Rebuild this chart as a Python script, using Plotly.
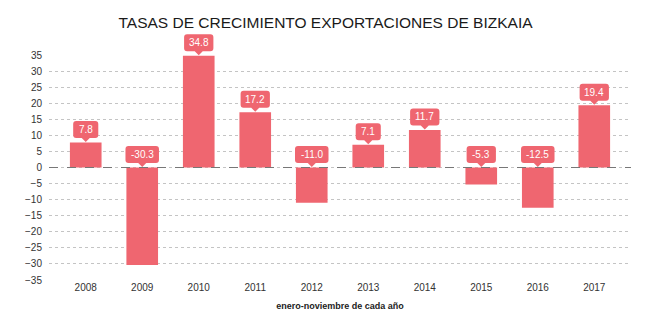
import plotly.graph_objects as go

years = ["2008", "2009", "2010", "2011", "2012", "2013", "2014", "2015", "2016", "2017"]
values = [7.8, -30.3, 34.8, 17.2, -11.0, 7.1, 11.7, -5.3, -12.5, 19.4]
y_ticks = list(range(-35, 40, 5))

BAR = "#EF6670"
FONT = "Liberation Sans, Arial, sans-serif"
Y_MIN, Y_MAX = -35, 35

fig = go.Figure()
fig.add_trace(go.Bar(x=list(range(len(years))), y=values, marker=dict(color=BAR, line=dict(width=0)),
                     width=0.56, hoverinfo="skip"))

shapes = []
annotations = []
for i, v in enumerate(values):
    label = f"{v:.1f}"
    anchor = max(v, 0)
    frac = (anchor - Y_MIN) / (Y_MAX - Y_MIN)
    w = 4.2 * len(label) + 12.5
    hw = w / 2
    b = 4.5   # box bottom above anchor
    h = 17
    r = 3
    t = b + h
    p = 4     # pointer half-width
    path = (f"M 0,0.5 L {-p},{b} L {-hw + r},{b} Q {-hw},{b} {-hw},{b + r} "
            f"L {-hw},{t - r} Q {-hw},{t} {-hw + r},{t} L {hw - r},{t} Q {hw},{t} {hw},{t - r} "
            f"L {hw},{b + r} Q {hw},{b} {hw - r},{b} L {p},{b} Z")
    shapes.append(dict(type="path", xref="x", yref="paper", xsizemode="pixel", ysizemode="pixel",
                       xanchor=i, yanchor=frac, path=path, fillcolor=BAR,
                       line=dict(width=0), layer="above"))
    annotations.append(dict(x=i, y=frac, xref="x", yref="paper", text=label, showarrow=False,
                            yanchor="middle", yshift=b + h / 2, font=dict(family=FONT, size=10, color="#FFFFFF")))

shapes.append(dict(type="line", xref="paper", yref="y", x0=0, x1=1, y0=0, y1=0,
                   line=dict(color="#777777", width=1, dash="dash"), layer="above"))

fig.update_layout(
    width=663, height=328,
    margin=dict(l=49, r=32, t=55, b=48),
    paper_bgcolor="white", plot_bgcolor="white",
    showlegend=False,
    title=dict(text="TASAS DE CRECIMIENTO EXPORTACIONES DE BIZKAIA", x=0.491, xanchor="center",
               y=1 - 23 / 328, yanchor="middle", font=dict(family=FONT, size=15.5, color="#1a1a1a")),
    xaxis=dict(range=[-0.65, 9.65], tickmode="array", tickvals=list(range(len(years))), ticktext=years,
               showgrid=False, zeroline=False, showline=False, ticks="",
               tickfont=dict(family=FONT, size=10, color="#333333"),
               title=dict(text="<b>enero-noviembre de cada año</b>", standoff=10,
                          font=dict(family=FONT, size=9, color="#222222"))),
    yaxis=dict(range=[Y_MIN, Y_MAX], tickmode="array", tickvals=y_ticks,
               showgrid=True, gridcolor="#C4C4C4", griddash="dot", gridwidth=1,
               zeroline=False, showline=False, ticks="", ticklabelstandoff=6,
               tickfont=dict(family=FONT, size=10, color="#333333")),
    shapes=shapes,
    annotations=annotations,
)

fig.write_html("out.html")
